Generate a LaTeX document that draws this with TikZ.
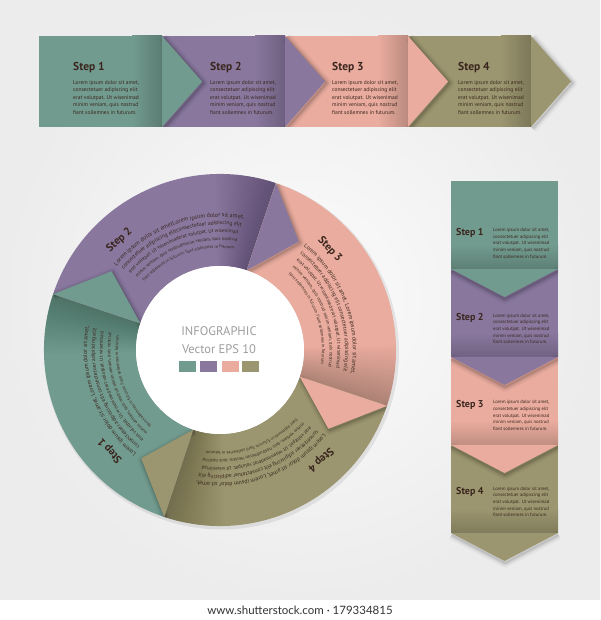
\documentclass[tikz,border=0pt]{standalone}
\usepackage{fontspec}
\setmainfont{PT Sans}
\newfontfamily\footfont{Lato}
\usetikzlibrary{decorations.text}
\definecolor{cteal}{RGB}{114,155,143}
\definecolor{cpurp}{RGB}{137,119,158}
\definecolor{cpink}{RGB}{233,172,158}
\definecolor{colive}{RGB}{155,150,111}
\definecolor{ctext}{RGB}{58,38,30}
\definecolor{cinfo}{RGB}{158,158,158}
\definecolor{bgout}{RGB}{236,236,236}
\definecolor{bgin}{RGB}{252,252,252}
\definecolor{cfoot}{RGB}{50,50,50}
\newcommand\loremtxt{Lorem ipsum dolor sit amet,\\consectetuer adipiscing elit\\erat volutpat. Ut wisenimad\\minim veniam, quis nostrud\\fiant sollemnes in futurum.}
\newcommand\ringprep[2]{%
  \setbox0=\hbox{\fontsize{10}{12}\selectfont #2}%
  \expandafter\xdef\csname rwid@#1\endcsname{\the\wd0}%
  \expandafter\gdef\csname rtxt@#1\endcsname{#2}}
\newcommand\ringline[3]{%
  \pgfmathsetmacro\rlr{133-7.75*#2}%
  \pgfmathsetmacro\rla{#1-20.5-0.75*#2}%
  \pgfmathsetmacro\rlspan{61-1.15*#2}%
  \edef\rlw{\csname rwid@#3\endcsname}%
  \pgfmathsetmacro\ringfs{\rlr/\rlw*\rlspan*pi/18}%
  \path[decorate,decoration={text along path,text align=left,text color=ctext,
    text/.expanded={|\noexpand\normalfont\noexpand\fontsize{\ringfs}{\ringfs}\noexpand\selectfont|\csname rtxt@#3\endcsname}}]
    (\rla:\rlr) arc[start angle=\rla,end angle=\rla-\rlspan-15,radius=\rlr];%
}
\newcommand\ringblock[6]{%
  \ringline{#1}{0}{#2}\ringline{#1}{1}{#3}\ringline{#1}{2}{#4}%
  \ringline{#1}{3}{#5}\ringline{#1}{4}{#6}}
\tikzset{
  hlabel/.style={font=\fontsize{11.5}{12}\selectfont\bfseries, text=ctext, inner sep=0pt, anchor=west},
  hlorem/.style={font=\fontsize{5.5}{7.5}\selectfont, text=ctext, align=left, inner sep=0pt, anchor=north west},
  vlabel/.style={font=\fontsize{10}{11}\selectfont\bfseries, text=ctext, inner sep=0pt, anchor=west},
  vlorem/.style={font=\fontsize{4.7}{6.7}\selectfont, text=ctext, align=left, inner sep=0pt, anchor=north west},
  rlabel/.style={font=\fontsize{11}{12}\selectfont\bfseries, text=ctext, inner sep=0pt},
  infotext/.style={font=\fontsize{12.5}{13}\selectfont, text=cinfo, inner sep=0pt},
  tipshadow/.style={line join=round, black, opacity=#1},
}
\begin{document}%
\ringprep{a1}{Lorem ipsum dolor sit amet, Lorem ipsum dolor sit amet,}%
\ringprep{a2}{consectetuer adipiscing elit consectetuer adipiscing elit}%
\ringprep{a3}{erat volutpat. Ut wisenimad erat volutpat. Ut wisenimad}%
\ringprep{a4}{minim veniam, quis nostrud minim veniam, quis nostrud}%
\ringprep{a5}{fiant sollemnes in futurum. fiant sollemnes in futurum.}%
\ringprep{b1}{Lorem ipsum dolor sit ametLorem ipsum dolor sit amet,}%
\ringprep{b2}{consectetuer adipiscing elitconsectetuer adipiscing elit}%
\ringprep{b3}{erat volutpat. Ut wisenimaderat volutpat. Ut wisenimad}%
\ringprep{b4}{minim veniam, quis nostrudminim veniam, quis nostrud}%
\begin{tikzpicture}[x=1pt,y=1pt]
\useasboundingbox (0,0) rectangle (600,620);
% background
\shade[inner color=bgin, outer color=bgout] (0,20) rectangle (600,620);
\fill[white] (0,0) rectangle (600,20);
\node[font=\footfont\fontsize{11.5}{12}\selectfont, text=cfoot] (foot) at (300,10) {www.shutterstock.com · 179334815};

% ===== horizontal arrow =====
\foreach \col/\xa in {cteal/39, cpurp/162, cpink/285, colive/408} {
  \fill[\col] (\xa,493) rectangle ++(123,91);
  \shade[left color=\col, right color=\col!80!black] (\xa+93,493) rectangle (\xa+123,584);
}
\begin{scope}
  \clip (39,493) rectangle (531,584);
  \foreach \xe in {162,285,408} {
    \foreach \w/\op in {10/0.03,7/0.04,5/0.05,3/0.06,1.5/0.07}
      \draw[line width=\w, tipshadow=\op, shift={(1.5,-1.5)}] (\xe,584) -- (\xe+40,538.5) -- (\xe,493);
  }
\end{scope}
\foreach \w/\op in {10/0.025,7/0.03,5/0.04,3/0.05,1.5/0.06}
  \draw[line width=\w, tipshadow=\op, shift={(1.5,-1.5)}] (531,584) -- (571,538.5) -- (531,493);
\foreach \col/\xe in {cteal/162, cpurp/285, cpink/408, colive/531}
  \fill[\col] (\xe,584) -- (\xe+40,538.5) -- (\xe,493) -- cycle;
\node[hlabel] (h1) at (73,552.3) {Step 1};
\node[hlorem] (h1t) at (73,540) {\loremtxt};
\node[hlabel] (h2) at (210,552.3) {Step 2};
\node[hlorem] (h2t) at (210,540) {\loremtxt};
\node[hlabel] (h3) at (332,552.3) {Step 3};
\node[hlorem] (h3t) at (332,540) {\loremtxt};
\node[hlabel] (h4) at (458,552.3) {Step 4};
\node[hlorem] (h4t) at (458,540) {\loremtxt};

% ===== vertical arrow =====
\foreach \col/\yb in {cteal/351, cpurp/263, cpink/175, colive/87} {
  \fill[\col] (451,\yb) rectangle (558,\yb+88);
  \shade[top color=\col, bottom color=\col!82!black] (451,\yb) rectangle (558,\yb+24);
}
\begin{scope}
  \clip (451,87) rectangle (558,439);
  \foreach \yb in {351,263,175} {
    \foreach \w/\op in {10/0.03,7/0.04,5/0.05,3/0.06,1.5/0.07}
      \draw[line width=\w, tipshadow=\op, shift={(0.5,-2)}] (451,\yb) -- (504.5,\yb-28) -- (558,\yb);
  }
\end{scope}
\foreach \w/\op in {10/0.025,7/0.03,5/0.04,3/0.05,1.5/0.06}
  \draw[line width=\w, tipshadow=\op, shift={(0.5,-2)}] (451,87) -- (504.5,59) -- (558,87);
\foreach \col/\yb in {cteal/351, cpurp/263, cpink/175, colive/87}
  \fill[\col] (451,\yb) -- (504.5,\yb-28) -- (558,\yb) -- cycle;
\node[vlabel] (v1) at (456,386.7) {Step 1};
\node[vlorem] (v1t) at (493,392) {\loremtxt};
\node[vlabel] (v2) at (456,301.7) {Step 2};
\node[vlorem] (v2t) at (493,306.5) {\loremtxt};
\node[vlabel] (v3) at (456,215) {Step 3};
\node[vlorem] (v3t) at (493,219.8) {\loremtxt};
\node[vlabel] (v4) at (456,128.3) {Step 4};
\node[vlorem] (v4t) at (493,133.5) {\loremtxt};

% ===== ring =====
\begin{scope}[shift={(220,270)}]
  \fill[black, opacity=0.08] (1.5,-2) circle (177.5);
  \foreach \col/\B in {cteal/251.5, cpurp/161.5, cpink/71.5, colive/-18.5} {
    \fill[\col] (\B:176) arc[start angle=\B, end angle=\B-90, radius=176]
      -- (\B-90:84) arc[start angle=\B-90, end angle=\B, radius=84] -- cycle;
    \foreach \k in {1,...,20}
      \fill[black, opacity=0.01] (\B-90:176) arc[start angle=\B-90, end angle=\B-90+\k, radius=176]
        -- (\B-90+\k:84) arc[start angle=\B-90+\k, end angle=\B-90, radius=84] -- cycle;
  }
  \begin{scope}
    \clip (0,0) circle (176);
    \foreach \B in {251.5, 161.5, 71.5, -18.5} {
      \foreach \w/\op in {10/0.03,7/0.04,5/0.05,3/0.06,1.5/0.07}
        \draw[line width=\w, tipshadow=\op, shift={(1,-1.5)}] (\B-90:176) -- (\B-107.5:134) -- (\B-90:84);
    }
  \end{scope}
  \foreach \col/\B in {cteal/251.5, cpurp/161.5, cpink/71.5, colive/-18.5}
    \fill[\col] (\B-90:176) -- (\B-107.5:134) -- (\B-90:84) -- cycle;
  \fill[white] (0,0) circle (84);
  % labels
  \node[rlabel, rotate=132.5] (r1) at (222.5:149) {Step 1};
  \node[rlabel, rotate=42.5] (r2) at (132.5:149) {Step 2};
  \node[rlabel, rotate=-47.5] (r3) at (42.5:149) {Step 3};
  \node[rlabel, rotate=-137.5] (r4) at (-47.5:149) {Step 4};
  % curved text
  \ringblock{251.5}{a1}{a2}{a3}{a4}{a5}
  \ringblock{161.5}{b1}{b2}{b3}{b4}{a5}
  \ringblock{71.5}{a1}{a2}{a3}{a4}{a5}
  \ringblock{-18.5}{a1}{a2}{b3}{b4}{a5}
\end{scope}
% centre
\node[infotext] (info) at (219,289.3) {INFOGRAPHIC};
\node[infotext] (eps) at (219,271) {Vector EPS 10};
\fill[cteal] (179.3,248) rectangle ++(17,11);
\fill[cpurp] (200.3,248) rectangle ++(17,11);
\fill[cpink] (221.5,248) rectangle ++(17,11);
\fill[colive] (242.3,248) rectangle ++(17,11);
\end{tikzpicture}
\end{document}
